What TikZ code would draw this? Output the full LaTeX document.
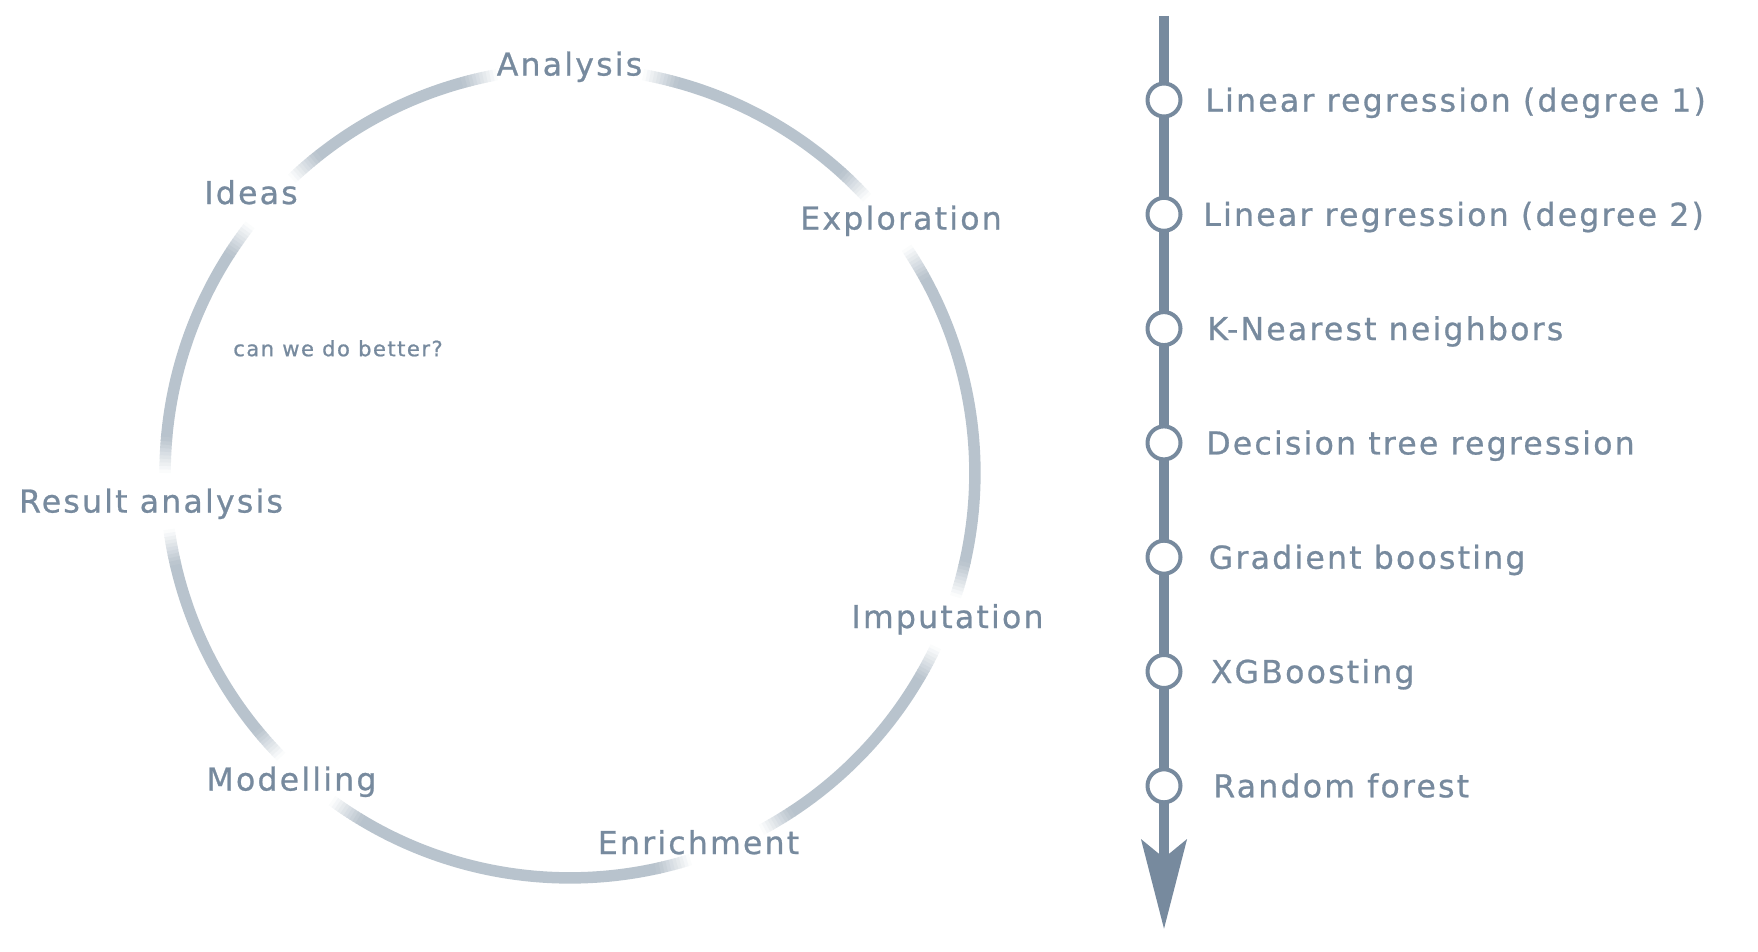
\documentclass[tikz,border=0pt]{standalone}
\usepackage{xcolor}
\usepackage{fontspec}
\setmainfont{DejaVu Sans}[LetterSpace=7, FakeBold=0.8]
\usetikzlibrary{arrows.meta,positioning}

\definecolor{slate}{HTML}{778A9E}
\definecolor{ringgray}{HTML}{B8C3CD}

\begin{document}
\begin{tikzpicture}[
    x=0.02cm, y=-0.02cm,
    stage/.style={font=\fontsize{17.95}{20}\selectfont, text=slate, inner sep=0pt, text height=13.1pt, text depth=0pt},
    note/.style={font=\fontsize{12}{14}\selectfont, text=slate, inner sep=0pt, text height=8.75pt, text depth=0pt},
    ring/.style={draw=ringgray, line width=0.23cm},
    timeline/.style={draw=slate, line width=0.19cm, -{Stealth[length=1.78cm, width=0.9cm, inset=0.36cm]}},
    mdot/.style={circle, draw=slate, fill=white, line width=0.08cm, minimum size=0.66cm, inner sep=0pt}
]
\useasboundingbox (0,0) rectangle (1758,952);

% --- Cycle ring (broken where the stage names sit)
\begin{scope}[shift={(570,473)}]
    \foreach \s/\e in {-17.8/33.8, 42.8/79.6, 100.4/133.4, 142.2/180, 188/224.5, 234/287.3, 298.2/334.6}{
        \draw[ring] ({\s+5}:8.1cm) arc[start angle=\s+5, end angle=\e-5, radius=8.1cm];
        % soft ends
        \foreach \k in {0,...,9}{
            \pgfmathtruncatemacro{\pc}{10*\k+5}
            \draw[ring, draw=ringgray!\pc!white] ({\s+0.5*\k}:8.1cm) arc[start angle=\s+0.5*\k, delta angle=0.6, radius=8.1cm];
            \draw[ring, draw=ringgray!\pc!white] ({\e-0.5*\k}:8.1cm) arc[start angle=\e-0.5*\k, delta angle=-0.6, radius=8.1cm];
        }
    }
\end{scope}

% --- Stage names
\node[stage] (analysis) at (569.5,64) {Analysis};
\node[stage] (exploration) at (901,218) {Exploration};
\node[stage] (imputation) at (947.5,616.5) {Imputation};
\node[stage] (enrichment) at (698.5,842.5) {Enrichment};
\node[stage] (modelling) at (291.5,779) {Modelling};
\node[stage] (result) at (151,501) {Result analysis};
\node[stage] (ideas) at (251,192.5) {Ideas};
\node[note] (better) at (338,348.5) {can we do better?};

% --- Model timeline
\coordinate (top) at (1164,16);
\coordinate (tip) at (1164,929);
\draw[timeline] (top) -- (tip);

\node[mdot] (d1) at (1164,100) {};
\node[mdot] (d2) at (1164,214.3) {};
\node[mdot] (d3) at (1164,328.6) {};
\node[mdot] (d4) at (1164,442.9) {};
\node[mdot] (d5) at (1164,557.2) {};
\node[mdot] (d6) at (1164,671.5) {};
\node[mdot] (d7) at (1164,785.8) {};

\node[stage, right=0.45cm of d1] (lin1) {Linear regression (degree 1)};
\node[stage, right=0.41cm of d2] (lin2) {Linear regression (degree 2)};
\node[stage, right=0.49cm of d3] (knn) {K-Nearest neighbors};
\node[stage, right=0.47cm of d4] (tree) {Decision tree regression};
\node[stage, right=0.52cm of d5] (gb) {Gradient boosting};
\node[stage, right=0.56cm of d6] (xgb) {XGBoosting};
\node[stage, right=0.61cm of d7] (rf) {Random forest};
\end{tikzpicture}
\end{document}
